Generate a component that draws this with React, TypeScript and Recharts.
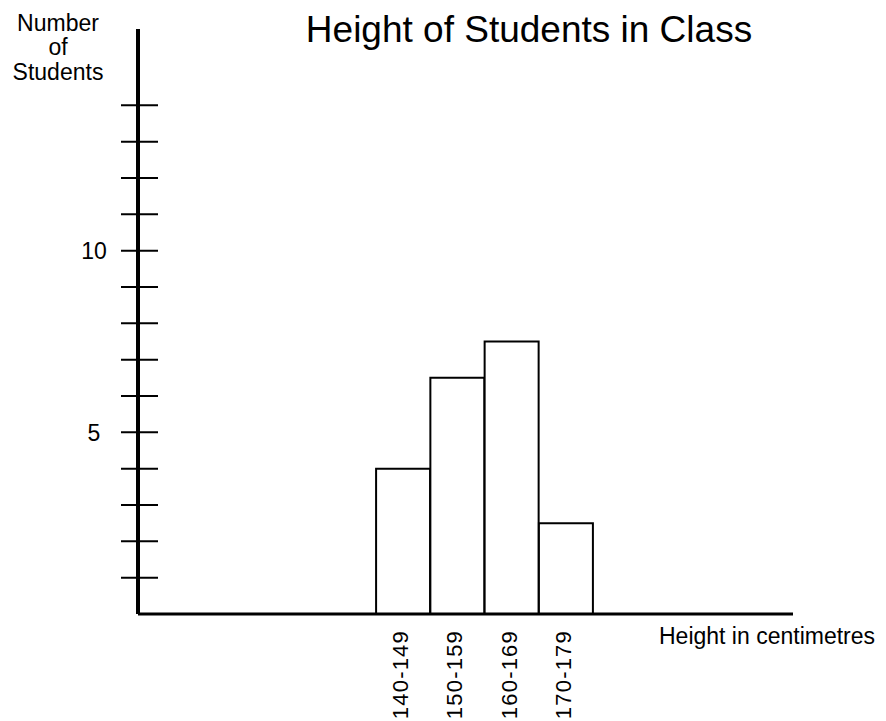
import React from 'react';
import { BarChart, Bar, XAxis, YAxis } from 'recharts';

// class intervals, with empty slots either side so the bars sit where the original has them
const ranges = ['', '', '', '', '140-149', '150-159', '160-169', '170-179', '', '', ''];
const students = [null, null, null, null, 4, 6.5, 7.5, 2.5, null, null, null];
const yTicks = [1, 2, 3, 4, 5, 6, 7, 8, 9, 10, 11, 12, 13, 14];
const yLabelled = [5, 10];

const FONT = '"Liberation Sans", Arial, Helvetica, sans-serif';

const data = ranges.map((range, i) => ({ range, students: students[i] }));

const YTick = (props: any) => {
  const { x, y, payload } = props;
  return (
    <g>
      <line x1={x - 17} x2={x + 20} y1={y} y2={y} stroke="#000" strokeWidth={2} />
      {yLabelled.includes(payload.value) && (
        <text x={x - 44} y={y} dy="0.36em" textAnchor="middle" fontSize={23} fontFamily={FONT} fill="#000">
          {payload.value}
        </text>
      )}
    </g>
  );
};

const XTick = (props: any) => {
  const { x, y, payload } = props;
  if (!payload.value) return <g />;
  return (
    <text
      x={x - 3}
      y={y + 16}
      dy="0.36em"
      transform={`rotate(-90, ${x - 3}, ${y + 16})`}
      textAnchor="end"
      fontSize={22}
      letterSpacing={1.2}
      fontFamily={FONT}
      fill="#000"
    >
      {payload.value}
    </text>
  );
};

export default function App() {
  return (
    <div style={{ position: 'absolute', left: 0, top: 0, width: 886, height: 721, background: '#fff' }}>
      <BarChart
        width={886}
        height={721}
        data={data}
        margin={{ top: 29, right: 93, bottom: 77, left: 78 }}
        barCategoryGap={0}
        barGap={0}
      >
        <XAxis
          dataKey="range"
          interval={0}
          height={30}
          tickLine={false}
          tickSize={0}
          tickMargin={0}
          padding={{ left: 21, right: 37 }}
          axisLine={{ stroke: '#000', strokeWidth: 3 }}
          tick={<XTick />}
        />
        <YAxis
          width={60}
          domain={[0, 16.1]}
          ticks={yTicks}
          interval={0}
          tickLine={false}
          tickSize={0}
          tickMargin={0}
          axisLine={{ stroke: '#000', strokeWidth: 4 }}
          tick={<YTick />}
        />
        <Bar dataKey="students" fill="#fff" stroke="#000" strokeWidth={2} isAnimationActive={false} />
      </BarChart>
      <svg width={886} height={721} style={{ position: 'absolute', left: 0, top: 0, pointerEvents: 'none' }}>
        <text x={529} y={42} textAnchor="middle" fontSize={37} fontFamily={FONT} fill="#000">
          Height of Students in Class
        </text>
        <g fontSize={23} fontFamily={FONT} fill="#000" textAnchor="middle">
          <text x={58} y={31}>Number</text>
          <text x={58} y={55}>of</text>
          <text x={58} y={80}>Students</text>
        </g>
        <text x={659} y={644} fontSize={23} fontFamily={FONT} fill="#000">
          Height in centimetres
        </text>
      </svg>
    </div>
  );
}
